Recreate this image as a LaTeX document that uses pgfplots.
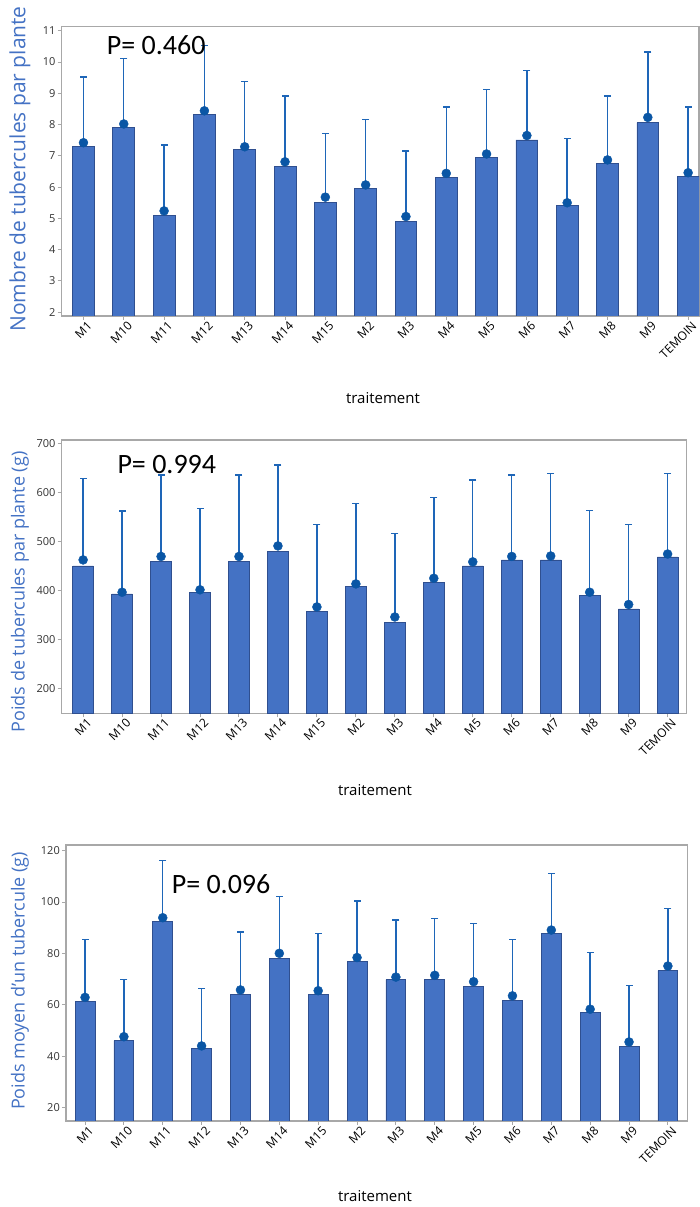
\documentclass[border=0pt]{standalone}
\usepackage{pgfplots}
\pgfplotsset{compat=1.18}
\usepackage{pgfplotstable}
\usepackage{fontspec}
\setmainfont{Carlito}
\newfontfamily\uifont{Open Sans}

\definecolor{barfill}{HTML}{4472C4}
\definecolor{baredge}{HTML}{2F4F8F}
\definecolor{errblue}{HTML}{1E66B8}
\definecolor{dotblue}{HTML}{0A56A5}
\definecolor{framegray}{HTML}{A8A8A8}
\definecolor{labelblue}{HTML}{4472C4}
\definecolor{ticktext}{HTML}{333333}

% columns: position, bar height, mean marker, top of interval
\pgfplotstableread{
x bar mean top
0 7.31 7.42 9.52
1 7.91 8.02 10.12
2 5.10 5.24 7.35
3 8.32 8.44 10.52
4 7.21 7.29 9.37
5 6.65 6.81 8.91
6 5.50 5.68 7.71
7 5.95 6.07 8.17
8 4.90 5.06 7.16
9 6.30 6.44 8.56
10 6.96 7.06 9.12
11 7.51 7.65 9.72
12 5.40 5.50 7.56
13 6.76 6.87 8.91
14 8.06 8.23 10.32
15 6.35 6.46 8.56
}\nombre

\pgfplotstableread{
x bar mean top
0 449.7 462 628
1 392.5 396 562
2 458.5 469 635
3 395 401 567
4 458.5 469 635
5 480 490.5 656
6 356 366 534
7 407 413 577.5
8 334 345.5 516
9 416.5 424.5 589
10 449.7 458 625
11 462 469 635
12 462 470 638
13 389 396 562.6
14 362 371 534
15 468 474 638
}\poids

\pgfplotstableread{
x bar mean top
0 61.25 62.9 85.5
1 46.1 47.6 69.8
2 92.4 93.9 116.1
3 43.2 44.0 66.3
4 64.1 65.8 88.4
5 78.0 80.05 102.2
6 64.1 65.5 87.7
7 76.8 78.4 100.4
8 69.8 70.8 93.0
9 69.8 71.5 93.5
10 67.1 69.0 91.7
11 61.6 63.5 85.5
12 87.7 89.1 111.05
13 57.1 58.3 80.3
14 43.7 45.55 67.6
15 73.3 75.1 97.6
}\moyen

\pgfplotsset{
  panel/.style={
    scale only axis,
    anchor=south west,
    axis line style={framegray, line width=1.2pt},
    tick style={framegray, line width=1pt},
    tick align=outside,
    major tick length=4pt,
    tick pos=left,
    xtick={0,...,15},
    xticklabels={M1,M10,M11,M12,M13,M14,M15,M2,M3,M4,M5,M6,M7,M8,M9,TEMOIN},
    xticklabel style={rotate=45, anchor=east, inner sep=0pt, yshift=-7pt, xshift=2pt,
      font=\uifont\fontsize{12}{14}\selectfont, text=black},
    yticklabel style={font=\uifont\fontsize{11}{13}\selectfont, text=ticktext, inner sep=2pt},
    /pgf/number format/assume math mode=true,
    /pgf/number format/1000 sep={},
    clip=true,
  },
  bars/.style={ybar, bar shift=0pt, bar width=#1, fill=barfill, draw=baredge, line width=0.8pt},
  means/.style={only marks, mark=*, mark size=4.5pt, color=dotblue,
    error bars/.cd, y dir=plus, y explicit, error mark=none,
    error bar style={line width=1.4pt, color=errblue}},
  caps/.style={only marks, mark=-, mark size=3.5pt, color=errblue,
    mark options={line width=1.4pt}},
}

\begin{document}
\begin{tikzpicture}
\path[use as bounding box] (0pt,0pt) rectangle (699pt,1207pt);

% nombre de tubercules
\begin{axis}[panel, at={(61.7pt,891pt)}, width=637.3pt, height=289.3pt,
  xmin=-0.54, xmax=15.27, ymin=1.88, ymax=11.13, ytick={2,...,11}]
  \addplot[bars=0.54] table[x=x, y=bar] {\nombre};
  \addplot[caps] table[x=x, y=top] {\nombre};
  \addplot[means] table[x=x, y=mean, y error expr=\thisrow{top}-\thisrow{mean}] {\nombre};
\end{axis}
\node[anchor=base west, inner sep=0pt, font=\fontsize{28}{30}\selectfont] at (106.7pt,1152pt) {P= 0.460};
\node[rotate=90, text=labelblue, font=\uifont\fontsize{21}{24}\selectfont] at (20pt,1038pt) {Nombre de tubercules par plante};
\node[font=\uifont\fontsize{15}{18}\selectfont] at (383pt,809pt) {traitement};

% poids de tubercules
\begin{axis}[panel, at={(61.7pt,493.7pt)}, width=625pt, height=273.3pt,
  xmin=-0.55, xmax=15.49, ymin=149, ymax=706.7, ytick={200,300,...,700}]
  \addplot[bars=0.53] table[x=x, y=bar] {\poids};
  \addplot[caps] table[x=x, y=top] {\poids};
  \addplot[means] table[x=x, y=mean, y error expr=\thisrow{top}-\thisrow{mean}] {\poids};
\end{axis}
\node[anchor=base west, inner sep=0pt, font=\fontsize{28}{30}\selectfont] at (117.3pt,733.7pt) {P= 0.994};
\node[rotate=90, text=labelblue, font=\uifont\fontsize{18}{22}\selectfont] at (20pt,615pt) {Poids de tubercules par plante (g)};
\node[font=\uifont\fontsize{15}{18}\selectfont] at (375pt,417pt) {traitement};

% poids moyen d'un tubercule
\begin{axis}[panel, at={(66pt,86pt)}, width=621.7pt, height=276pt,
  xmin=-0.49, xmax=15.51, ymin=14.8, ymax=122.2, ytick={20,40,...,120}]
  \addplot[bars=0.51] table[x=x, y=bar] {\moyen};
  \addplot[caps] table[x=x, y=top] {\moyen};
  \addplot[means] table[x=x, y=mean, y error expr=\thisrow{top}-\thisrow{mean}] {\moyen};
\end{axis}
\node[anchor=base west, inner sep=0pt, font=\fontsize{28}{30}\selectfont] at (171.6pt,313.7pt) {P= 0.096};
\node[rotate=90, text=labelblue, font=\uifont\fontsize{18}{22}\selectfont] at (20pt,226pt) {Poids moyen d’un tubercule (g)};
\node[font=\uifont\fontsize{15}{18}\selectfont] at (375pt,11pt) {traitement};
\end{tikzpicture}
\end{document}
